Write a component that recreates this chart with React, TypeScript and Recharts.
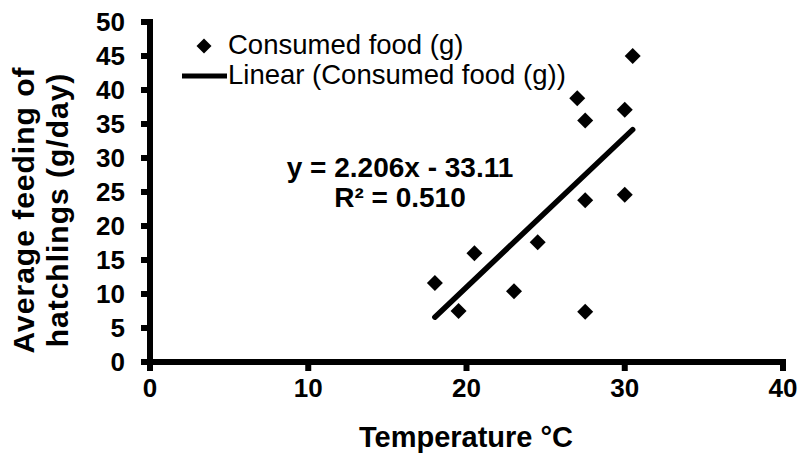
import { ScatterChart, Scatter, XAxis, YAxis, ReferenceLine } from "recharts";

// values
const temperature = [18, 19.5, 20.5, 23, 24.5, 27, 27.5, 27.5, 27.5, 30, 30, 30.5];
const consumedFood = [11.6, 7.5, 16, 10.4, 17.6, 38.8, 35.5, 23.8, 7.4, 37.1, 24.6, 45];
const xTicks = [0, 10, 20, 30, 40];
const yTicks = [0, 5, 10, 15, 20, 25, 30, 35, 40, 45, 50];

// Excel linear trendline
const slope = 2.206;
const intercept = -33.11;
const rSquared = "0.510";
const trendFrom = 18;
const trendTo = 30.5;

const points = temperature.map((t, i) => ({ x: t, y: consumedFood[i] }));
const trend = [trendFrom, trendTo].map((t) => ({ x: t, y: slope * t + intercept }));

const FONT = "'Liberation Sans', Arial, sans-serif";
const TICK = 8;

const Diamond = (props: any) => {
    const { cx, cy } = props;
    const r = 8;
    return <path d={`M${cx},${cy - r}L${cx + r},${cy}L${cx},${cy + r}L${cx - r},${cy}Z`} fill="#000" />;
};

// tick mark + bold label, drawn from the axis position recharts passes in
const XTick = (props: any) => {
    const { x, y, payload } = props;
    return (
        <g>
            <rect x={x - 3} y={y} width={6} height={TICK + 1} fill="#000" />
            <text x={x} y={y + 35} textAnchor="middle" fontSize={26} fontWeight={700} fontFamily={FONT} fill="#000">
                {payload.value}
            </text>
        </g>
    );
};

const YTick = (props: any) => {
    const { x, y, payload } = props;
    return (
        <g>
            <rect x={x - TICK - 1} y={y - 3} width={TICK + 1} height={6} fill="#000" />
            <text x={x - 25} y={y + 9} textAnchor="end" fontSize={26} fontWeight={700} fontFamily={FONT} fill="#000">
                {payload.value}
            </text>
        </g>
    );
};

export default function App() {
    return (
        <div style={{ position: "absolute", left: 0, top: 0, width: 798, height: 466, background: "#fff" }}>
            <ScatterChart width={798} height={466} margin={{ top: 22, right: 15, bottom: 0, left: 0 }}>
                <XAxis
                    type="number"
                    dataKey="x"
                    domain={[0, 40]}
                    ticks={xTicks}
                    interval={0}
                    height={104}
                    axisLine={false}
                    tickLine={false}
                    tickSize={0}
                    tickMargin={0}
                    tick={<XTick />}
                />
                <YAxis
                    type="number"
                    dataKey="y"
                    domain={[0, 50]}
                    ticks={yTicks}
                    interval={0}
                    width={150}
                    axisLine={false}
                    tickLine={false}
                    tickSize={0}
                    tickMargin={0}
                    tick={<YTick />}
                />
                <ReferenceLine x={0} stroke="#000" strokeWidth={6} strokeLinecap="square" ifOverflow="visible" />
                <ReferenceLine y={0} stroke="#000" strokeWidth={6} strokeLinecap="square" ifOverflow="visible" />
                <Scatter data={points} shape={Diamond} isAnimationActive={false} />
                <Scatter
                    data={trend}
                    line={{ stroke: "#000", strokeWidth: 5.5, strokeLinecap: "round" }}
                    shape={() => <g />}
                    isAnimationActive={false}
                />
            </ScatterChart>
            <svg
                width={798}
                height={466}
                style={{ position: "absolute", left: 0, top: 0, pointerEvents: "none" }}
                fontFamily={FONT}
            >
                {/* legend */}
                <path d="M204,38.5L211.5,46L204,53.5L196.5,46Z" fill="#000" />
                <text x={228} y={54} fontSize={27.5}>Consumed food (g)</text>
                <line x1={182} y1={76} x2={227} y2={76} stroke="#000" strokeWidth={5} />
                <text x={228} y={84} fontSize={27.5}>Linear (Consumed food (g))</text>

                {/* trendline equation */}
                <text x={400} y={177} fontSize={28} fontWeight={700} textAnchor="middle">
                    y = {slope}x - {Math.abs(intercept)}
                </text>
                <text x={400} y={207} fontSize={28} fontWeight={700} textAnchor="middle">
                    R² = {rSquared}
                </text>

                {/* axis titles */}
                <text x={466} y={447} fontSize={29} fontWeight={700} textAnchor="middle">
                    Temperature °C
                </text>
                <text
                    transform="translate(34,210) rotate(-90)"
                    fontSize={30}
                    fontWeight={700}
                    letterSpacing={1}
                    textAnchor="middle"
                >
                    Average feeding of
                </text>
                <text
                    transform="translate(68,210) rotate(-90)"
                    fontSize={30}
                    fontWeight={700}
                    letterSpacing={1}
                    textAnchor="middle"
                >
                    hatchlings (g/day)
                </text>
            </svg>
        </div>
    );
}
